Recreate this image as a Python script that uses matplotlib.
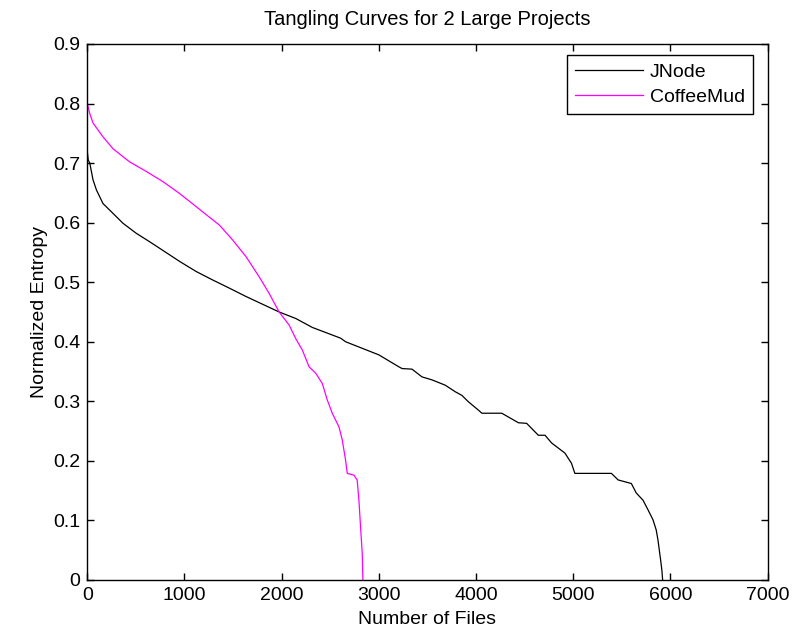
import numpy as np
import matplotlib.pyplot as plt

plt.rcParams['font.family'] = ['Liberation Sans', 'DejaVu Sans']

# JNode tangling curve
jnode_x = [0, 10, 26, 59, 94, 162, 231, 367, 505, 641, 744, 949, 1120, 1287,
           1462, 1633, 1974, 2146, 2316, 2607, 2658, 3000, 3205, 3239, 3341,
           3444, 3547, 3684, 3787, 3854, 3923, 4026, 4060, 4265, 4436, 4521,
           4641, 4710, 4778, 4915, 4982, 5017, 5393, 5462, 5598, 5649, 5718,
           5769, 5821, 5854, 5872, 5899, 5913, 5920]
jnode_y = [0.72, 0.705, 0.70, 0.672, 0.655, 0.632, 0.621, 0.599, 0.582, 0.568,
           0.557, 0.535, 0.518, 0.504, 0.490, 0.476, 0.450, 0.439, 0.424, 0.406,
           0.400, 0.378, 0.358, 0.355, 0.354, 0.341, 0.336, 0.327, 0.316, 0.310,
           0.299, 0.285, 0.280, 0.280, 0.264, 0.263, 0.243, 0.243, 0.230, 0.213,
           0.196, 0.179, 0.179, 0.168, 0.162, 0.146, 0.134, 0.118, 0.101, 0.084,
           0.067, 0.034, 0.015, 0.0]

# CoffeeMud tangling curve
coffee_x = [0, 26, 60, 162, 265, 436, 607, 777, 949, 1120, 1188, 1359, 1495,
            1633, 1769, 1872, 1974, 2077, 2146, 2213, 2282, 2351, 2418, 2470,
            2521, 2590, 2624, 2658, 2675, 2744, 2777, 2795, 2812, 2829, 2836]
coffee_y = [0.80, 0.783, 0.767, 0.744, 0.724, 0.702, 0.686, 0.669, 0.649, 0.627,
            0.618, 0.596, 0.571, 0.543, 0.509, 0.481, 0.450, 0.428, 0.405, 0.386,
            0.358, 0.347, 0.330, 0.302, 0.280, 0.257, 0.235, 0.201, 0.179, 0.176,
            0.168, 0.134, 0.089, 0.045, 0.0]

fig = plt.figure(figsize=(8.08, 6.37), dpi=100)
ax = fig.add_axes([0.108, 0.0895, 0.842, 0.8415])

ax.plot(jnode_x, jnode_y, color='black', lw=0.9, label='JNode')
ax.plot(coffee_x, coffee_y, color='#ff00ff', lw=0.9, label='CoffeeMud')

ax.set_xlim(0, 7000)
ax.set_ylim(0, 0.9)
ax.set_xticks(np.arange(0, 7001, 1000))
ax.set_yticks(np.arange(0, 0.91, 0.1))
ax.set_yticklabels(['0', '0.1', '0.2', '0.3', '0.4', '0.5', '0.6', '0.7', '0.8', '0.9'])
ax.tick_params(direction='in', top=True, right=True, length=5, width=1,
               labelsize=14, pad=5)
for s in ax.spines.values():
    s.set_linewidth(1.0)

ax.set_title('Tangling Curves for 2 Large Projects', fontsize=14.5, pad=14)
ax.set_xlabel('Number of Files', fontsize=14, labelpad=5)
ax.set_ylabel('Normalized Entropy', fontsize=14, labelpad=4)

leg = ax.legend(loc='upper right', bbox_to_anchor=(0.978, 0.979), borderaxespad=0,
                fontsize=14, fancybox=False, framealpha=1, edgecolor='black',
                handlelength=3.5, labelspacing=0.4, handletextpad=0.35,
                borderpad=0.4)
leg.get_frame().set_linewidth(1.0)

fig.savefig('out.png', dpi=100)
